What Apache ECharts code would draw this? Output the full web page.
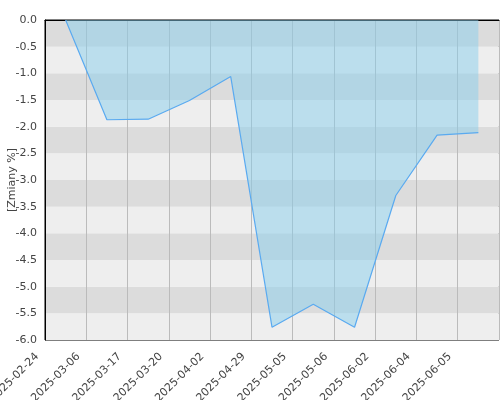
<!DOCTYPE html>
<html>
<head>
<meta charset="utf-8">
<script src="https://cdn.jsdelivr.net/npm/echarts@6/dist/echarts.min.js"></script>
<style>
  html, body { margin: 0; padding: 0; background: #fff; }
  #main { width: 500px; height: 400px; }
</style>
</head>
<body>
<div id="main"></div>
<script>
// daty notowań (etykiety osi X)
const dates = ['2025-02-24', '2025-03-06', '2025-03-17', '2025-03-20', '2025-04-02', '2025-04-29',
  '2025-05-05', '2025-05-06', '2025-06-02', '2025-06-04', '2025-06-05']
// zmiany w %
const values = [0.0, -1.87, -1.86, -1.51, -1.06, -5.76, -5.33, -5.76, -3.29, -2.16, -2.11]

const chart = echarts.init(document.getElementById('main'))

// punkty leżą w środku przedziału między etykietami
const points = values.map((v, i) => [i + 0.5, v])

chart.setOption({
  animation: false,
  textStyle: { fontFamily: 'DejaVu Sans' },
  grid: {
    left: 45, right: 1, top: 20, bottom: 60,
    containLabel: false, outerBoundsMode: 'none',
    show: true, borderColor: '#000', borderWidth: 1
  },
  xAxis: {
    type: 'value',
    min: 0,
    max: dates.length,
    interval: 1,
    axisLine: { show: true, lineStyle: { color: '#000' } },
    axisTick: { show: false },
    axisLabel: {
      rotate: 45,
      fontSize: 11,
      color: '#444',
      margin: 7,
      padding: [0, 11, 0, 0],
      formatter: (v) => dates[v] || ''
    },
    splitLine: { show: true, lineStyle: { color: '#bbbbbb', width: 1 } }
  },
  yAxis: {
    type: 'value',
    min: -6,
    max: 0,
    interval: 0.5,
    name: '[Zmiany %]',
    nameLocation: 'middle',
    nameGap: 27,
    nameMoveOverlap: false,
    nameTextStyle: { fontSize: 11, color: '#444' },
    axisLine: { show: true, lineStyle: { color: '#000' } },
    axisTick: { show: false },
    axisLabel: { fontSize: 11, color: '#444', margin: 8, formatter: (v) => v.toFixed(1) },
    splitLine: { show: false },
    splitArea: { show: true, areaStyle: { color: ['#eeeeee', '#dcdcdc'] } }
  },
  series: [{
    type: 'line',
    data: points,
    symbol: 'none',
    lineStyle: { color: '#5aaaf0', width: 1.2 },
    areaStyle: { color: 'rgb(135,206,235)', opacity: 0.5, origin: 'end' }
  }]
})
</script>
</body>
</html>
